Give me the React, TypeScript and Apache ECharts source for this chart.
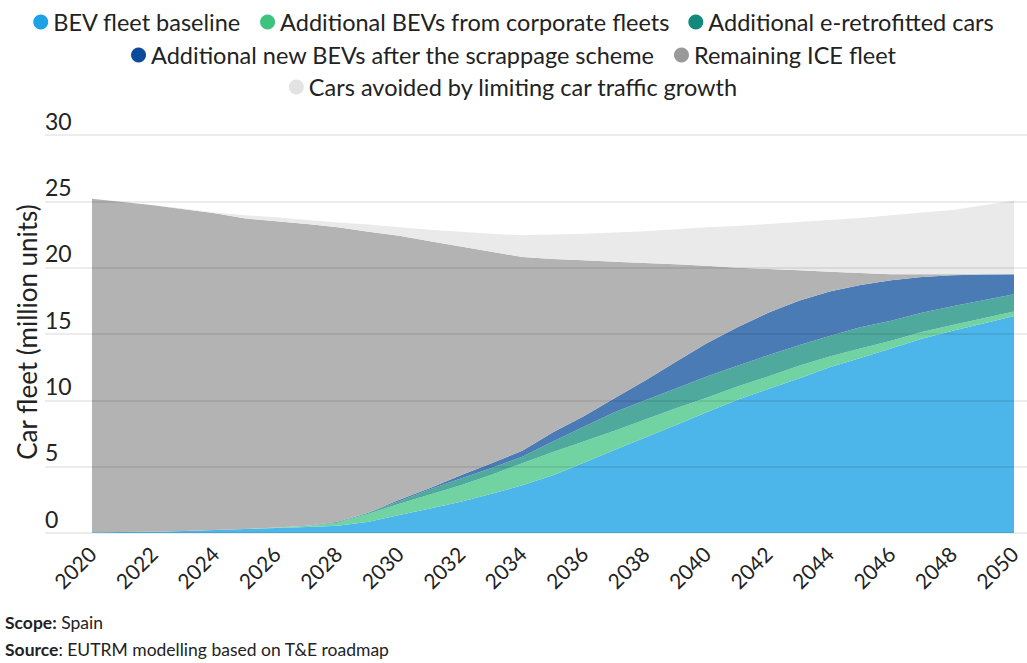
import React, { useEffect, useRef } from "react";
import * as echarts from "echarts";

const years = ["2020","2021","2022","2023","2024","2025","2026","2027","2028","2029","2030","2031","2032","2033","2034","2035","2036","2037","2038","2039","2040","2041","2042","2043","2044","2045","2046","2047","2048","2049","2050"];

const baseline = [0.05,0.07,0.1,0.15,0.22,0.3,0.38,0.45,0.55,0.85,1.35,1.85,2.35,2.95,3.6,4.35,5.3,6.25,7.2,8.15,9.1,10.05,10.85,11.65,12.5,13.2,13.9,14.65,15.25,15.8,16.35];
const corporate = [0,0,0,0,0,0,0.04,0.1,0.25,0.6,0.85,1.05,1.25,1.45,1.65,1.75,1.6,1.45,1.35,1.25,1.1,1.0,0.95,0.95,0.8,0.7,0.6,0.5,0.42,0.38,0.35];
const retrofit = [0,0,0,0,0,0,0,0,0,0.1,0.2,0.4,0.5,0.5,0.5,0.8,1.1,1.4,1.45,1.5,1.6,1.55,1.6,1.55,1.55,1.6,1.5,1.45,1.43,1.37,1.3];
const scrappage = [0,0,0,0,0,0,0,0,0.05,0,0.1,0.1,0.25,0.35,0.45,0.7,0.8,1.05,1.5,2.0,2.5,2.9,3.2,3.35,3.35,3.2,3.05,2.7,2.32,1.93,1.5];
const ice = [25.15,24.88,24.6,24.25,23.88,23.4,23.08,22.75,22.2,21.15,19.9,18.6,17.25,15.95,14.6,13.05,11.75,10.3,8.85,7.35,5.85,4.5,3.3,2.3,1.5,0.9,0.45,0.2,0.08,0.02,0];
const avoided = [0,0,0,0.05,0.05,0.25,0.3,0.3,0.35,0.55,0.65,0.85,1.1,1.35,1.65,1.85,2.0,2.2,2.4,2.65,2.9,3.15,3.4,3.65,3.9,4.15,4.45,4.65,4.85,5.2,5.55];

const names = [
  "BEV fleet baseline",
  "Additional BEVs from corporate fleets",
  "Additional e-retrofitted cars",
  "Additional new BEVs after the scrappage scheme",
  "Remaining ICE fleet",
  "Cars avoided by limiting car traffic growth",
];
const seriesData = [baseline, corporate, retrofit, scrappage, ice, avoided];
const dotColors = ["#1ba3e6", "#3cc47e", "#118a7c", "#0c4b9c", "#999999", "#e3e3e3"];
const areaColors = ["#4cb5e9", "#70d3a1", "#4fa99d", "#4a7bb4", "#b3b3b3", "#eaeaea"];

const FONT = "Lato";

export default function App() {
  const ref = useRef<HTMLDivElement>(null);
  useEffect(() => {
    document.body.style.margin = "0";
    const chart = echarts.init(ref.current!, null, { renderer: "svg" });
    const legendText = { fontSize: 23.5, color: "#222", fontFamily: FONT };
    const legendBase = {
      icon: "circle",
      itemWidth: 15,
      itemHeight: 15,
      itemGap: 19,
      left: "center",
      textStyle: legendText,
      selectedMode: false,
    };
    chart.setOption({
      animation: false,
      textStyle: { fontFamily: FONT },
      legend: [
        { ...legendBase, top: 5, data: names.slice(0, 3) },
        { ...legendBase, top: 38, data: names.slice(3, 5) },
        { ...legendBase, top: 70, data: names.slice(5, 6) },
      ],
      grid: [
        { left: 92, right: 13, top: 135, bottom: 130 },
        { left: 45, right: 0, top: 135, bottom: 130 },
      ],
      xAxis: [
        {
          type: "category",
          gridIndex: 0,
          data: years,
          boundaryGap: false,
          axisLine: { show: false },
          axisTick: { show: false },
          axisLabel: {
            interval: 1,
            rotate: 45,
            fontSize: 21,
            color: "#222",
            fontFamily: FONT,
            margin: 17,
          },
        },
        { type: "value", gridIndex: 1, show: false, min: 0, max: 1 },
      ],
      yAxis: [
        {
          type: "value",
          gridIndex: 0,
          min: 0,
          max: 30,
          interval: 5,
          show: false,
          splitLine: { show: false },
        },
        {
          type: "value",
          gridIndex: 1,
          min: 0,
          max: 30,
          interval: 5,
          z: 10,
          axisLine: { show: false },
          axisTick: { show: false },
          splitLine: { show: true, lineStyle: { color: "rgba(0,0,0,0.1)", width: 1.5 } },
          axisLabel: {
            inside: true,
            margin: 0,
            align: "left",
            verticalAlign: "bottom",
            padding: [0, 0, 3, 0],
            fontSize: 23,
            color: "#222",
            fontFamily: FONT,
          },
        },
      ],
      series: seriesData.map((d, i) => ({
        name: names[i],
        type: "line",
        stack: "total",
        xAxisIndex: 0,
        yAxisIndex: 0,
        data: d,
        showSymbol: false,
        symbol: "circle",
        itemStyle: { color: dotColors[i] },
        lineStyle: { width: 0 },
        areaStyle: { color: areaColors[i], opacity: 1 },
        emphasis: { disabled: true },
      })),
      graphic: [
        {
          type: "text",
          x: 27,
          y: 332,
          rotation: Math.PI / 2,
          style: {
            text: "Car fleet (million units)",
            fontSize: 26,
            fill: "#222",
            fontFamily: FONT,
            align: "center",
            verticalAlign: "middle",
          },
        },
        {
          type: "text",
          left: 5,
          top: 613,
          style: {
            text: "{b|Scope:} Spain",
            fontSize: 17.5,
            fill: "#222",
            fontFamily: FONT,
            rich: { b: { fontWeight: "bold", fontSize: 17.5, fontFamily: FONT, fill: "#222" } },
          },
        },
        {
          type: "text",
          left: 5,
          top: 640,
          style: {
            text: "{b|Source}: EUTRM modelling based on T&E roadmap",
            fontSize: 17.5,
            fill: "#222",
            fontFamily: FONT,
            rich: { b: { fontWeight: "bold", fontSize: 17.5, fontFamily: FONT, fill: "#222" } },
          },
        },
      ],
    });
    return () => chart.dispose();
  }, []);
  return <div ref={ref} style={{ width: 1027, height: 663 }} />;
}
